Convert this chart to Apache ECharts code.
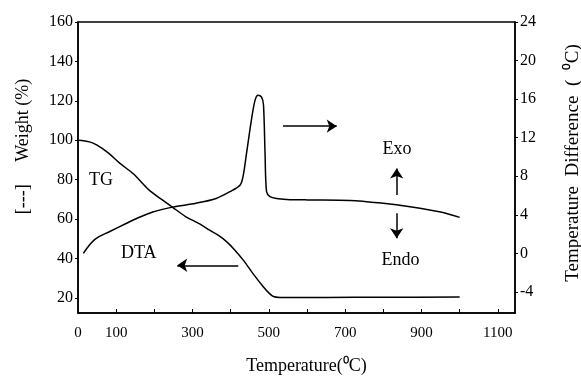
<!DOCTYPE html>
<html>
<head>
<meta charset="utf-8">
<script src="https://cdn.jsdelivr.net/npm/echarts@6/dist/echarts.min.js"></script>
<style>
html,body{margin:0;padding:0;background:#fff;}
#chart{width:581px;height:385px;}
</style>
</head>
<body>
<div id="chart"></div>
<script>
// TG curve (weight %, left axis)
const tgTemp   = [0, 30, 50, 80, 110, 145, 185, 222, 248, 283, 320, 345, 370, 390, 410, 433, 460, 486, 500, 512, 530, 560, 650, 800, 1000];
const tgWeight = [100, 99.2, 97.5, 93.5, 88.3, 83, 75, 69.6, 66, 61.2, 57.5, 54.4, 51.5, 48.5, 44.5, 39.2, 32, 25.6, 22.6, 20.8, 20.3, 20.2, 20.3, 20.4, 20.5];
// DTA curve (temperature difference, right axis)
const dtaTemp  = [14, 30, 48, 82, 126, 152, 196, 248, 309, 362, 398, 425, 433, 442, 455, 464, 472, 481, 486, 490, 494, 503, 520, 547, 600, 713, 800, 870, 950, 1000];
const dtaValue = [0.0, 0.87, 1.56, 2.25, 3.1, 3.6, 4.3, 4.8, 5.2, 5.7, 6.4, 7.1, 8.1, 10.5, 14.0, 15.9, 16.4, 16.2, 15.4, 10.5, 6.4, 5.9, 5.7, 5.6, 5.55, 5.5, 5.2, 4.84, 4.3, 3.74];
// tick labels
const xLabels = [0, 100, 300, 500, 700, 900, 1100];
const xTicks = [100, 200, 300, 400, 500, 600, 700, 800, 900, 1000, 1100];
const leftTicks = [20, 40, 60, 80, 100, 120, 140, 160];
const rightTicks = [-4, 0, 4, 8, 12, 16, 20, 24];
// annotations
const textNotes = [
  {name: 'TG', temp: 60, value: 79.8, axis: 'left'},
  {name: 'DTA', temp: 159, value: 42.7, axis: 'left'},
  {name: 'Exo', temp: 836, value: 10.8, axis: 'right'},
  {name: 'Endo', temp: 845, value: -0.76, axis: 'right'}
];
const arrowsLeft = [ [[420, 36.6], [260, 36.6]] ];
const arrowsRight = [ [[537, 13.2], [678, 13.2]], [[835, 6.05], [835, 8.8]], [[835, 4.16], [835, 1.56]] ];

const FONT = 'Liberation Serif';
const chart = echarts.init(document.getElementById('chart'), null, {renderer: 'canvas'});

function zip(a, b) { return a.map((v, i) => [v, b[i]]); }
function notes(axis) {
  return textNotes.filter(n => n.axis === axis).map(n => ({
    name: n.name, coord: [n.temp, n.value], symbol: 'circle', symbolSize: 1,
    itemStyle: {color: 'rgba(0,0,0,0)'},
    label: {show: true, position: 'inside', formatter: n.name, color: '#000', fontFamily: FONT, fontSize: 18}
  }));
}
function arrows(list) {
  return list.map(a => [{coord: a[0], symbol: 'none'}, {coord: a[1], symbol: 'arrow', symbolSize: 10}]);
}

const option = {
  animation: false,
  backgroundColor: '#fff',
  grid: {left: 78, right: 66, top: 22, bottom: 72, outerBoundsMode: 'none', containLabel: false,
    show: true, borderColor: '#000', borderWidth: 1.5, backgroundColor: 'transparent'},
  xAxis: {
    type: 'value', min: 0, max: 1145,
    name: 'Temperature(⁰C)', nameLocation: 'middle', nameGap: 44,
    nameTextStyle: {fontFamily: FONT, fontSize: 18, color: '#000', padding: [0, 0, 0, 20]},
    axisLine: {show: true, onZero: false, lineStyle: {color: '#000', width: 1.5}},
    axisTick: {show: true, inside: true, length: 4, customValues: xTicks, lineStyle: {color: '#000'}},
    axisLabel: {customValues: xLabels, margin: 13, fontFamily: FONT, fontSize: 15, color: '#000', formatter: v => String(v)},
    splitLine: {show: false}
  },
  yAxis: [
    {
      type: 'value', min: 12.4, max: 160, position: 'left',
      name: '[---]     Weight (%)', nameLocation: 'middle', nameGap: 46,
      nameTextStyle: {fontFamily: FONT, fontSize: 18, color: '#000', padding: [0, 0, 0, 42]},
      axisLine: {show: true, onZero: false, lineStyle: {color: '#000', width: 1.5}},
      axisTick: {show: true, length: 3, customValues: leftTicks, lineStyle: {color: '#000'}},
      axisLabel: {customValues: leftTicks, margin: 5, fontFamily: FONT, fontSize: 16, color: '#000'},
      splitLine: {show: false}
    },
    {
      type: 'value', min: -6.18, max: 24, position: 'right',
      name: 'Temperature  Difference  (  ⁰C)', nameLocation: 'middle', nameGap: 49,
      nameTextStyle: {fontFamily: FONT, fontSize: 19, color: '#000', padding: [0, 0, 0, 9]},
      axisLine: {show: true, onZero: false, lineStyle: {color: '#000', width: 1.5}},
      axisTick: {show: true, length: 3, customValues: rightTicks, lineStyle: {color: '#000'}},
      axisLabel: {customValues: rightTicks, margin: 5, fontFamily: FONT, fontSize: 16, color: '#000'},
      splitLine: {show: false}
    }
  ],
  series: [
    {
      name: 'TG', type: 'line', yAxisIndex: 0, data: zip(tgTemp, tgWeight),
      smooth: 0.3, showSymbol: false, lineStyle: {color: '#000', width: 1.5},
      markPoint: {silent: true, data: notes('left')},
      markLine: {silent: true, symbol: ['none', 'arrow'], symbolSize: 10,
        lineStyle: {color: '#000', width: 1.5, type: 'solid'}, label: {show: false}, data: arrows(arrowsLeft)}
    },
    {
      name: 'DTA', type: 'line', yAxisIndex: 1, data: zip(dtaTemp, dtaValue),
      smooth: 0.3, showSymbol: false, lineStyle: {color: '#000', width: 1.5},
      markPoint: {silent: true, data: notes('right')},
      markLine: {silent: true, symbol: ['none', 'arrow'], symbolSize: 10,
        lineStyle: {color: '#000', width: 1.5, type: 'solid'}, label: {show: false}, data: arrows(arrowsRight)}
    }
  ]
};
chart.setOption(option);
</script>
</body>
</html>
